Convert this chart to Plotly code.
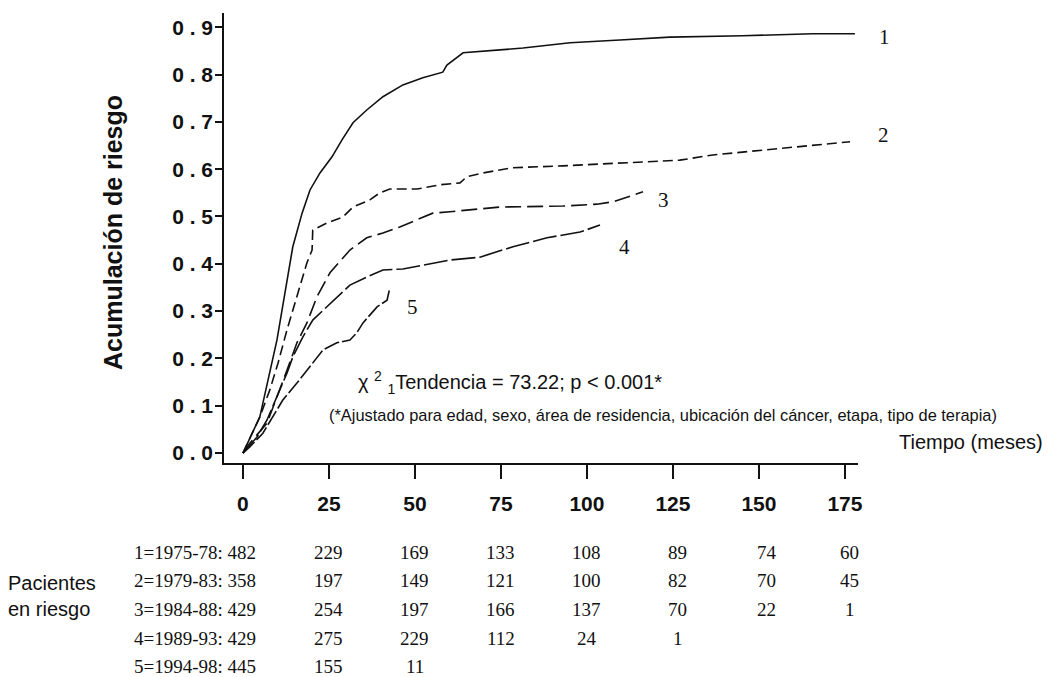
import plotly.graph_objects as go

# ---------------- data ----------------
t1 = [0, 4.9, 9.9, 14.5, 17.2, 19.5, 22.4, 25.9, 28.8, 32.0, 36.0, 40.7, 46.5, 52.3, 58.1, 59.3,
      64.0, 69.8, 74.7, 81.4, 95.1, 109.6, 124.1, 145.3, 165.7, 177.9]
r1 = [0, 0.076, 0.239, 0.436, 0.507, 0.556, 0.592, 0.626, 0.662, 0.698, 0.725, 0.753, 0.778, 0.793,
      0.805, 0.820, 0.846, 0.850, 0.852, 0.856, 0.867, 0.873, 0.879, 0.882, 0.886, 0.886]

t2 = [0, 4.9, 7.8, 10.2, 12.8, 15.7, 18.6, 20.1, 20.3, 24.4, 29.1, 32.0, 36.9, 39.8, 42.7, 50.6,
      57.3, 63.1, 65.1, 69.8, 78.5, 93.0, 112.5, 127.0, 136.6, 142.4, 156.1, 165.7, 176.5]
r2 = [0, 0.076, 0.133, 0.190, 0.260, 0.330, 0.402, 0.429, 0.471, 0.486, 0.499, 0.520, 0.535, 0.550,
      0.558, 0.558, 0.567, 0.571, 0.584, 0.592, 0.603, 0.607, 0.613, 0.619, 0.630, 0.634, 0.643,
      0.651, 0.658]

t3 = [0, 2.0, 7.0, 9.9, 12.8, 15.7, 18.6, 21.5, 25.3, 31.1, 36.0, 40.7, 45.6, 50.6, 55.2, 60.2,
      66.0, 74.7, 93.0, 102.9, 107.6, 111.6, 116.3]
r3 = [0, 0.021, 0.063, 0.118, 0.175, 0.233, 0.275, 0.330, 0.381, 0.429, 0.455, 0.465, 0.478, 0.493,
      0.507, 0.510, 0.514, 0.520, 0.522, 0.526, 0.531, 0.541, 0.552]

t4 = [0, 4.1, 7.0, 9.9, 12.8, 14.5, 17.4, 20.3, 24.4, 27.3, 31.1, 36.0, 40.7, 46.5, 52.3, 60.2,
      68.9, 78.5, 88.4, 98.0, 103.8]
r4 = [0, 0.034, 0.070, 0.118, 0.169, 0.203, 0.245, 0.281, 0.309, 0.330, 0.355, 0.372, 0.387, 0.389,
      0.397, 0.408, 0.414, 0.436, 0.455, 0.467, 0.482]

t5 = [0, 2.0, 5.8, 8.7, 11.6, 15.7, 18.6, 21.5, 23.3, 27.3, 31.1, 33.1, 34.9, 39.0, 41.9, 42.7]
r5 = [0, 0.013, 0.042, 0.076, 0.112, 0.148, 0.175, 0.203, 0.218, 0.233, 0.239, 0.254, 0.275, 0.309,
      0.323, 0.349]

curve_names = ["1", "2", "3", "4", "5"]
periods = ["1975-78", "1979-83", "1984-88", "1989-93", "1994-98"]

x_ticks = [0, 25, 50, 75, 100, 125, 150, 175]
x_tick_labels = ["0", "25", "50", "75", "100", "125", "150", "175"]
y_ticks = [0.0, 0.1, 0.2, 0.3, 0.4, 0.5, 0.6, 0.7, 0.8, 0.9]
y_tick_labels = ["0.0", "0.1", "0.2", "0.3", "0.4", "0.5", "0.6", "0.7", "0.8", "0.9"]

risk_1 = [482, 229, 169, 133, 108, 89, 74, 60]
risk_2 = [358, 197, 149, 121, 100, 82, 70, 45]
risk_3 = [429, 254, 197, 166, 137, 70, 22, 1]
risk_4 = [429, 275, 229, 112, 24, 1]
risk_5 = [445, 155, 11]

# ---------------- figure ----------------
W, H = 1053, 677
L, R, T, B = 224, 195, 13, 214
PW, PH = W - L - R, H - T - B


def px(x):
    return (x - L) / PW


def py(y):
    return (H - B - y) / PH


INK = "#111111"
dashes = ["solid", "10px,5px", "16px,6px", "24px,4px", "16px,3px"]
series = [(t1, r1), (t2, r2), (t3, r3), (t4, r4), (t5, r5)]

fig = go.Figure()
for (tt, rr), d, nm in zip(series, dashes, curve_names):
    fig.add_trace(go.Scatter(x=tt, y=rr, mode="lines", name=nm,
                             line=dict(color=INK, width=1.6, dash=d),
                             hoverinfo="skip", showlegend=False))

fig.update_layout(
    width=W, height=H,
    margin=dict(l=L, r=R, t=T, b=B, pad=0),
    paper_bgcolor="white", plot_bgcolor="white",
    xaxis=dict(range=[-5.5, 178.8], showgrid=False, zeroline=False,
               showline=True, linecolor=INK, linewidth=1.5,
               ticks="outside", ticklen=14, tickwidth=1.5, tickcolor=INK,
               tickvals=x_ticks, ticktext=x_tick_labels,
               ticklabelstandoff=7,
               tickfont=dict(family="Liberation Sans", size=21, color=INK, weight="bold")),
    yaxis=dict(range=[-0.021, 0.930], showgrid=False, zeroline=False,
               showline=True, linecolor=INK, linewidth=1.5,
               ticks="outside", ticklen=7, tickwidth=1.5, tickcolor=INK,
               tickvals=y_ticks, ticktext=[" ".join(s) for s in y_tick_labels],
               ticklabelstandoff=-2,
               tickfont=dict(family="Liberation Sans", size=21, color=INK, weight="bold")),
)

ann = []
# curve labels
label_pos = [(884, 37), (883, 135), (663, 200), (624, 247), (412, 307)]
for nm, (lx, ly) in zip(curve_names, label_pos):
    ann.append(dict(x=px(lx), y=py(ly), xref="paper", yref="paper", text=nm, showarrow=False,
                    xanchor="center", yanchor="middle",
                    font=dict(family="Liberation Serif", size=21, color=INK)))

# y title
ann.append(dict(x=px(113), y=py(233), xref="paper", yref="paper", text="Acumulación de riesgo",
                showarrow=False, textangle=-90, xanchor="center", yanchor="middle",
                font=dict(family="Liberation Sans", size=25, color=INK, weight="bold")))

# x title
ann.append(dict(x=px(897), y=py(442), xref="paper", yref="paper", text="Tiempo (meses)",
                showarrow=False, xanchor="left", yanchor="middle",
                font=dict(family="Liberation Sans", size=20, color=INK)))

# chi-square text
ann.append(dict(x=px(356), y=py(382), xref="paper", yref="paper",
                text="χ <sup>2</sup> <sub>1</sub>Tendencia = 73.22; p &lt; 0.001*",
                showarrow=False, xanchor="left", yanchor="middle",
                font=dict(family="Liberation Sans", size=20, color=INK)))
ann.append(dict(x=px(327), y=py(415), xref="paper", yref="paper",
                text="(*Ajustado para edad, sexo, área de residencia, ubicación del cáncer, etapa, tipo de terapia)",
                showarrow=False, xanchor="left", yanchor="middle",
                font=dict(family="Liberation Sans", size=16.4, color=INK)))

# risk table
ann.append(dict(x=px(52), y=py(596), xref="paper", yref="paper", text="Pacientes<br>en riesgo",
                showarrow=False, xanchor="center", yanchor="middle", align="left",
                font=dict(family="Liberation Sans", size=20, color=INK)))
risks = [risk_1, risk_2, risk_3, risk_4, risk_5]
col_shift = [0, 0, 0, 0, 5, 8, 5]
for i, (rk, per) in enumerate(zip(risks, periods)):
    yy = py(552 + i * 28.7)
    ann.append(dict(x=px(258), y=yy, xref="paper", yref="paper",
                    text=f"{curve_names[i]}={per}: {rk[0]}", showarrow=False,
                    xanchor="right", yanchor="middle",
                    font=dict(family="Liberation Serif", size=19, color=INK)))
    for j, v in enumerate(rk[1:]):
        ann.append(dict(x=x_ticks[j + 1], y=yy, xref="x", yref="paper", text=str(v),
                        showarrow=False, xanchor="center", yanchor="middle", xshift=col_shift[j],
                        font=dict(family="Liberation Serif", size=19, color=INK)))

fig.update_layout(annotations=ann)
fig.write_html("out.html")
